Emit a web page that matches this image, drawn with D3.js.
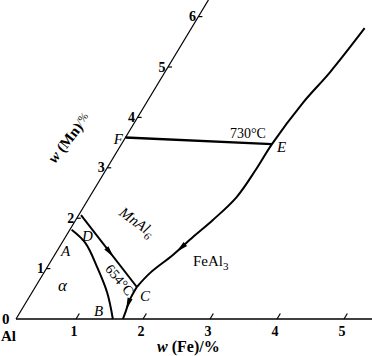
<!DOCTYPE html>
<html>
<head>
<meta charset="utf-8">
<script src="https://cdn.jsdelivr.net/npm/d3@7"></script>
<style>
  body { margin: 0; background: #fff; }
  svg { display: block; }
  text { font-family: "Liberation Serif", "Times New Roman", serif; fill: #000; }
</style>
</head>
<body>
<div id="chart"></div>
<script>
/*************** DATA (w(Fe) %, w(Mn) %) ***************/
const feTicks = [1, 2, 3, 4, 5];
const mnTicks = [1, 2, 3, 4, 5, 6];

// 730C isotherm F -> E
const lineFE = [[0, 3.6], [2.35, 3.47]];
// MnAl6 / FeAl3 boundary, top -> E -> C
const curveEC = [[2.69, 5.77], [2.57, 4.90], [2.44, 4.29], [2.35, 3.47], [2.34, 2.96],
  [2.30, 2.42], [2.15, 1.96], [2.01, 1.63], [1.87, 1.27], [1.69, 0.91], [1.62, 0.635]];
// D -> C
const lineDC = [[0.04, 2.06], [1.62, 0.635]];
// C -> bottom (654C eutectic line)
const curveCB = [[1.62, 0.635], [1.63, 0.38], [1.68, 0.12], [1.70, 0]];
// alpha solvus A -> B
const curveAB = [[0.03, 1.77], [0.39, 1.51], [0.83, 1.03], [1.23, 0.52], [1.55, 0]];

/*************** SCALES ***************/
const width = 372, height = 356;
// the printed Fe axis is slightly uneven between 0 and 1
const xFe = d3.scaleLinear().domain([0, 1, 5]).range([16, 76, 344]);
const yMn = d3.scaleLinear().domain([0, 6]).range([319, 16.6]);
const xMn = d3.scaleLinear().domain([0, 6]).range([0, 182.4]);   // lean of the Mn axis

// oblique coordinates -> pixels
function P(d) { return [xFe(d[0]) + xMn(d[1]), yMn(d[1])]; }

const svg = d3.select('#chart').append('svg')
  .attr('width', width)
  .attr('height', height);

/*************** AXES ***************/
const axes = svg.append('g').attr('stroke', '#000').attr('fill', 'none');

axes.append('line')
  .attr('x1', xFe(0)).attr('y1', yMn(0))
  .attr('x2', width).attr('y2', yMn(0))
  .attr('stroke-width', 1.6);

axes.append('line')
  .attr('x1', P([0, 0])[0]).attr('y1', P([0, 0])[1])
  .attr('x2', P([0, 6.33])[0]).attr('y2', P([0, 6.33])[1])
  .attr('stroke-width', 1.2);

// Fe ticks lean with the Mn axis
axes.selectAll('.fe-tick')
  .data(feTicks)
  .enter().append('line')
  .attr('x1', d => P([d, 0])[0]).attr('y1', d => P([d, 0])[1])
  .attr('x2', d => P([d, 0.11])[0]).attr('y2', d => P([d, 0.11])[1])
  .attr('stroke-width', 1.2);

axes.selectAll('.mn-tick')
  .data(mnTicks)
  .enter().append('line')
  .attr('x1', d => P([0, d])[0]).attr('y1', d => P([0, d])[1])
  .attr('x2', d => P([0, d])[0] + 4).attr('y2', d => P([0, d])[1])
  .attr('stroke-width', 1.2);

svg.selectAll('.fe-label')
  .data(feTicks)
  .enter().append('text')
  .attr('x', d => P([d, 0])[0] - 2)
  .attr('y', 336)
  .attr('text-anchor', 'middle')
  .style('font-size', '14px').style('font-weight', 'bold')
  .text(d => d);

svg.selectAll('.mn-label')
  .data(mnTicks)
  .enter().append('text')
  .attr('x', d => P([0, d])[0] - 2.5)
  .attr('y', d => P([0, d])[1] + 4.5)
  .attr('text-anchor', 'end')
  .style('font-size', '14px').style('font-weight', 'bold')
  .text(d => d);

svg.append('text').attr('x', 2).attr('y', 324).style('font-size', '15px').style('font-weight', 'bold').text('0');
svg.append('text').attr('x', 1).attr('y', 341).style('font-size', '15px').style('font-weight', 'bold').text('Al');

// axis titles
const feTitle = svg.append('text')
  .attr('x', 157).attr('y', 352)
  .style('font-size', '16px').style('font-weight', 'bold');
feTitle.append('tspan').style('font-style', 'italic').text('w');
feTitle.append('tspan').text(' (Fe)/%');

const mnTitle = svg.append('text')
  .attr('transform', 'translate(73,141) rotate(-52)')
  .attr('text-anchor', 'middle')
  .style('font-size', '15px').style('font-weight', 'bold');
mnTitle.append('tspan').style('font-style', 'italic').text('w');
mnTitle.append('tspan').text(' (Mn)');
mnTitle.append('tspan').attr('dy', -3).style('font-size', '11px').style('font-weight', 'normal').text('/%');

/*************** PHASE BOUNDARIES ***************/
const smooth = d3.line().x(d => P(d)[0]).y(d => P(d)[1]).curve(d3.curveCatmullRom.alpha(0.5));
const straight = d3.line().x(d => P(d)[0]).y(d => P(d)[1]);

const bounds = svg.append('g').attr('stroke', '#000').attr('fill', 'none').attr('stroke-width', 2);
bounds.append('path').attr('d', straight(lineFE)).attr('stroke-width', 2.4);
const pEC = bounds.append('path').attr('d', smooth(curveEC));
const pDC = bounds.append('path').attr('d', straight(lineDC));
const pCB = bounds.append('path').attr('d', smooth(curveCB));
bounds.append('path').attr('d', smooth(curveAB));

// arrowheads along the lines (direction of falling temperature)
function arrow(path, frac) {
  const node = path.node();
  const len = node.getTotalLength();
  const a = node.getPointAtLength(len * frac - 2);
  const b = node.getPointAtLength(len * frac + 2);
  const ang = Math.atan2(b.y - a.y, b.x - a.x) * 180 / Math.PI;
  svg.append('path')
    .attr('d', 'M6,0 L-6,-2.6 L-6,2.6 Z')
    .attr('fill', '#000')
    .attr('transform', 'translate(' + ((a.x + b.x) / 2) + ',' + ((a.y + b.y) / 2) + ') rotate(' + ang + ')');
}
arrow(pEC, 0.83);
arrow(pDC, 0.52);
arrow(pCB, 0.55);

/*************** LABELS ***************/
function label(x, y, txt, size, italic, anchor) {
  return svg.append('text')
    .attr('x', x).attr('y', y)
    .attr('text-anchor', anchor || 'start')
    .style('font-size', size + 'px')
    .style('font-style', italic ? 'italic' : 'normal')
    .text(txt);
}

label(123, 144, 'F', 15, true, 'end');
label(277, 152, 'E', 15, true);
label(230, 138, '730°C', 14, false);
label(82, 241, 'D', 15, true);
label(61, 256, 'A', 15, true);
label(58, 291, 'α', 17, true);
label(94, 316, 'B', 15, true);
label(140, 301, 'C', 15, true);

const mnAl = svg.append('text')
  .attr('transform', 'translate(134,226) rotate(36)')
  .attr('text-anchor', 'middle')
  .style('font-size', '15px').style('font-style', 'italic');
mnAl.append('tspan').text('MnAl');
mnAl.append('tspan').attr('dy', 4).style('font-size', '11px').text('6');

svg.append('text')
  .attr('transform', 'translate(116,283) rotate(50)')
  .attr('text-anchor', 'middle')
  .style('font-size', '14px')
  .text('654°C');

const feAl = svg.append('text')
  .attr('x', 193).attr('y', 266)
  .style('font-size', '15px');
feAl.append('tspan').text('FeAl');
feAl.append('tspan').attr('dy', 4).style('font-size', '11px').text('3');
</script>
</body>
</html>
